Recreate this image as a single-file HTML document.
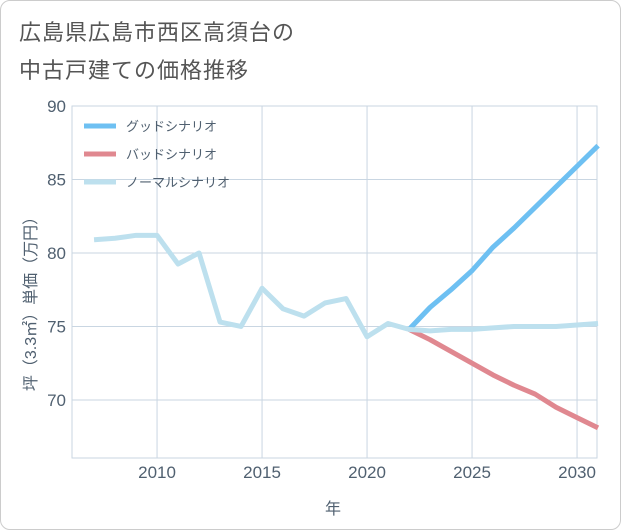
<!DOCTYPE html>
<html><head><meta charset="utf-8"><style>
body{margin:0;background:#fff;font-family:"Liberation Sans","Noto Sans CJK JP",sans-serif}
#wrap{position:relative;width:619px;height:528px;border:1px solid #ccc;border-radius:10px;background:#fff}
.t{position:absolute;left:18px;font-size:22px;color:#555;letter-spacing:1px}
</style></head><body>
<div id="wrap">
<div class="t" style="top:14px">広島県広島市西区高須台の</div>
<div class="t" style="top:52px">中古戸建ての価格推移</div>
<svg id="c" width="621" height="530" style="position:absolute;left:-1px;top:-1px"></svg>
</div>
<script>
const years=[2007,2008,2009,2010,2011,2012,2013,2014,2015,2016,2017,2018,2019,2020,2021,2022,2023,2024,2025,2026,2027,2028,2029,2030,2031];
const normal=[80.9,81.0,81.2,81.2,79.25,80.0,75.3,75.0,77.6,76.2,75.7,76.6,76.9,74.3,75.2,74.8,74.7,74.8,74.8,74.9,75.0,75.0,75.0,75.1,75.2];
const futureYears=[2022,2023,2024,2025,2026,2027,2028,2029,2030,2031];
const good=[74.8,76.3,77.5,78.8,80.4,81.7,83.1,84.5,85.9,87.3];
const bad=[74.8,74.1,73.3,72.5,71.7,71.0,70.4,69.5,68.8,68.1];
const xTicks=[2010,2015,2020,2025,2030];
const yTicks=[70,75,80,85,90];
const L=72,R=597,T=106,B=458,x0=2005.95,x1=2030.95,y0=66.05,y1=90;
const X=v=>L+(v-x0)/(x1-x0)*(R-L), Y=v=>B-(v-y0)/(y1-y0)*(B-T);
const s=document.getElementById('c'),NS='http://www.w3.org/2000/svg';
function el(t,a,p){const e=document.createElementNS(NS,t);for(const k in a)e.setAttribute(k,a[k]);(p||s).appendChild(e);return e;}
const grid=el('g',{});


for(const v of xTicks){el('line',{x1:X(v),x2:X(v),y1:T,y2:B,stroke:'#c9d6e2','stroke-width':1},grid);
const tx=el('text',{x:X(v),y:478,'text-anchor':'middle','font-size':17,fill:'#506070'});tx.textContent=v;

}
for(const v of yTicks){el('line',{x1:L,x2:R,y1:Y(v),y2:Y(v),stroke:'#c9d6e2','stroke-width':1},grid);
const tx=el('text',{x:66,y:Y(v)+6,'text-anchor':'end','font-size':17,fill:'#506070'});tx.textContent=v;

}
el('rect',{x:L,y:T,width:R-L,height:B-T,fill:'none',stroke:'#c9d6e2'});
function line(xs,ys,c,name){const p=el('polyline',{points:xs.map((v,i)=>X(v)+','+Y(ys[i])).join(' '),fill:'none',stroke:c,'stroke-width':5,'stroke-linejoin':'round'});

}
line(futureYears,bad,'#e08890','bad-scenario-line');
line(futureYears,good,'#6ec0f2','good-scenario-line');
line(years,normal,'#bde0ee','normal-scenario-line');
const leg=[['グッドシナリオ','#6ec0f2'],['バッドシナリオ','#e08890'],['ノーマルシナリオ','#bde0ee']];
leg.forEach((d,i)=>{const g=el('g',{});


el('line',{x1:84,x2:116,y1:126+i*28,y2:126+i*28,stroke:d[1],'stroke-width':5},g);
const t=el('text',{x:126,y:131+i*28,'font-size':13,fill:'#506070'},g);t.textContent=d[0];});
const yt=el('text',{x:0,y:0,'font-size':16,fill:'#506070','text-anchor':'middle',transform:'translate(36,300) rotate(-90)'});yt.textContent='坪（3.3㎡）単価（万円）';


const xt=el('text',{x:333,y:514,'font-size':16,fill:'#506070','text-anchor':'middle'});xt.textContent='年';


</script>
</body></html>
